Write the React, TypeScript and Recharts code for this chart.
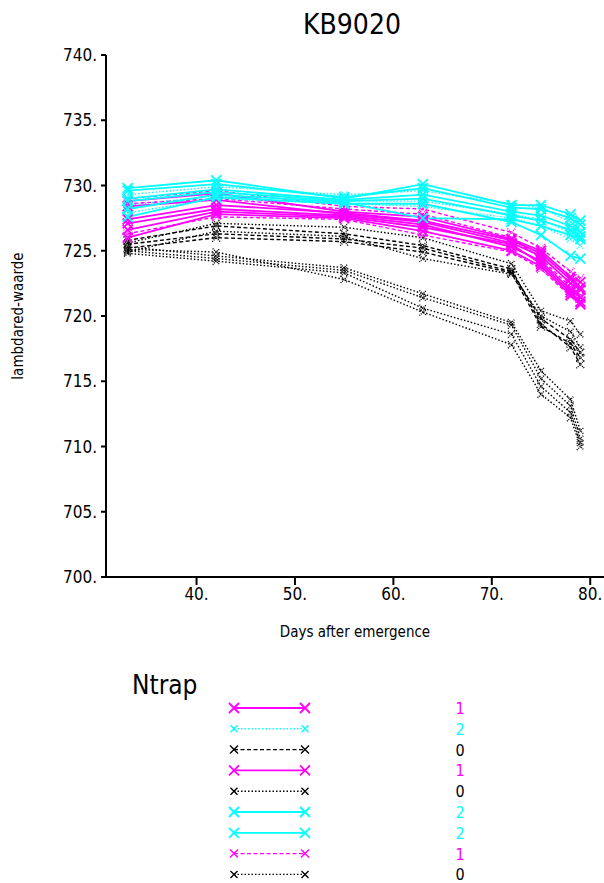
import React from 'react'
import { LineChart, Line, XAxis, YAxis } from 'recharts'

const FONT = "'Liberation Sans Narrow', 'DejaVu Sans Condensed', 'DejaVu Sans', sans-serif"

const DAYS = [33, 42, 55, 63, 72, 75, 78, 79]
const Y_TICKS = [700, 705, 710, 715, 720, 725, 730, 735, 740]
const X_TICKS = [40, 50, 60, 70, 80]

// Ntrap = 1 (magenta)
const M1 = [728.8, 729.4, 728.0, 727.6, 725.9, 725.0, 723.0, 722.6]
const M2 = [728.4, 728.9, 727.8, 727.2, 725.6, 724.6, 722.5, 722.0]
const M3 = [727.1, 728.2, 727.7, 727.0, 725.3, 724.2, 722.0, 721.4]
const M4 = [726.6, 728.0, 727.6, 726.8, 725.5, 724.0, 721.8, 721.1]
const M5 = [726.0, 727.8, 727.5, 726.5, 725.0, 723.8, 721.6, 720.9]
const M6 = [727.4, 728.5, 727.9, 727.3, 725.8, 724.8, 722.8, 722.2]
const MD1 = [729.0, 729.6, 728.4, 728.2, 726.4, 725.2, 723.4, 722.9]
const MD2 = [728.6, 729.0, 728.2, 727.8, 726.0, 724.4, 722.2, 721.6]
const MD3 = [726.3, 727.6, 727.4, 726.2, 724.9, 723.6, 721.5, 721.0]

// Ntrap = 2 (cyan)
const CD1 = [729.3, 729.9, 729.3, 729.6, 728.6, 728.3, 727.2, 726.6]
const CD2 = [728.5, 729.2, 728.8, 728.8, 727.8, 727.4, 726.4, 725.8]
const CD3 = [727.9, 729.0, 728.6, 728.4, 727.5, 726.9, 725.9, 725.4]
const C1 = [729.8, 730.4, 729.0, 730.1, 728.5, 728.5, 727.8, 727.3]
const C2 = [729.6, 730.1, 729.1, 729.8, 728.3, 728.2, 727.5, 727.0]
const C3 = [729.0, 729.7, 728.9, 729.3, 728.0, 727.7, 726.9, 726.4]
const C4 = [728.8, 729.5, 728.8, 729.0, 727.7, 727.3, 726.6, 726.1]
const C5 = [728.2, 729.3, 728.7, 727.5, 727.4, 726.9, 726.2, 725.9]
const C6 = [727.6, 729.1, 728.6, 728.6, 727.2, 726.2, 724.6, 724.4]

// Ntrap = 0 (black)
const BD1 = [725.8, 726.9, 726.3, 725.4, 723.6, 719.4, 717.6, 716.3]
const BD2 = [725.5, 726.3, 725.9, 725.2, 723.4, 719.8, 718.2, 717.2]
const BD3 = [725.2, 726.0, 725.7, 724.9, 723.3, 719.2, 717.9, 716.8]
const B1 = [725.6, 727.1, 726.8, 726.0, 724.0, 720.4, 719.6, 718.6]
const B2 = [724.9, 726.5, 726.1, 724.4, 723.2, 720.0, 718.8, 717.6]
const B3 = [725.3, 724.6, 723.7, 721.7, 719.5, 715.8, 713.6, 711.2]
const B4 = [725.0, 724.4, 723.5, 721.4, 719.3, 715.2, 713.1, 710.6]
const B5 = [724.8, 724.2, 723.3, 720.6, 718.6, 714.6, 712.6, 710.3]
const B6 = [725.1, 724.9, 722.8, 720.3, 717.8, 714.0, 712.2, 710.0]

// legend order: line styles and Ntrap values
const NTRAP = [1, 2, 0, 1, 0, 2, 2, 1, 0]

type Style = { color: string; dash?: string; width: number; mark: number }
const STYLES: Style[] = [
  { color: '#ff00ff', width: 1.8, mark: 5 },
  { color: '#00ffff', dash: '1.5 2', width: 1.4, mark: 3.5 },
  { color: '#000000', dash: '4 2.5', width: 1.4, mark: 4 },
  { color: '#ff00ff', width: 1.8, mark: 5 },
  { color: '#000000', dash: '1.5 2', width: 1.4, mark: 3.5 },
  { color: '#00ffff', width: 1.8, mark: 5 },
  { color: '#00ffff', width: 1.8, mark: 5 },
  { color: '#ff00ff', dash: '4 2.5', width: 1.4, mark: 4 },
  { color: '#000000', dash: '1.5 2', width: 1.4, mark: 3.5 },
]

const SERIES: number[][] = [
  M1, CD1, BD1, M2, B1, C1, C2, MD1, B3,
  M3, CD2, BD2, M4, B2, C3, C4, MD2, B4,
  M5, CD3, BD3, M6, B5, C5, C6, MD3, B6,
]

const data = DAYS.map((d, i) => {
  const row: Record<string, number> = { day: d }
  SERIES.forEach((s, k) => {
    row['s' + k] = s[i]
  })
  return row
})

function cross(cx: number, cy: number, r: number) {
  return `M${cx - r},${cy - r}L${cx + r},${cy + r}M${cx - r},${cy + r}L${cx + r},${cy - r}`
}

function makeDot(st: Style) {
  return (p: any) => (
    <path
      key={p.index}
      d={cross(p.cx, p.cy, st.mark)}
      stroke={st.color}
      strokeWidth={st.width}
      strokeDasharray={st.dash ? '1 1' : undefined}
      fill="none"
    />
  )
}

function LegendBox() {
  const rows = NTRAP.map((n, i) => ({ n, st: STYLES[i], y: 708 + i * 20.8 }))
  return (
    <svg width={604} height={883} style={{ position: 'absolute', left: 0, top: 0, pointerEvents: 'none' }}>
      <text x={132} y={694} fontSize={26} fontFamily={FONT} fontStretch="condensed" fill="#000">Ntrap</text>
      {rows.map(({ n, st, y }, i) => (
        <g key={i}>
          <line x1={234} x2={305} y1={y} y2={y} stroke={st.color} strokeWidth={st.width} strokeDasharray={st.dash} />
          <path d={cross(234, y, st.mark)} stroke={st.color} strokeWidth={st.width} fill="none" />
          <path d={cross(305, y, st.mark)} stroke={st.color} strokeWidth={st.width} fill="none" />
          <text x={460} y={y + 6} fontSize={16} fontFamily={FONT} fontStretch="condensed" fill={st.color} textAnchor="middle">{n}</text>
        </g>
      ))}
    </svg>
  )
}

export default function App() {
  return (
    <div style={{ position: 'absolute', left: 0, top: 0, width: 604, height: 883, background: '#fff', overflow: 'hidden', fontStretch: 'condensed' }}>
      <div style={{ position: 'absolute', left: 0, top: 8, width: 604, textAlign: 'center', paddingLeft: 100, boxSizing: 'border-box', fontFamily: FONT, fontSize: 28 }}>
        KB9020
      </div>
      <LineChart
        width={604}
        height={883}
        data={data}
        margin={{ top: 55, right: 0, bottom: 240, left: 6 }}
        style={{ fontFamily: FONT, fontStretch: 'condensed' }}
      >
        <XAxis
          dataKey="day"
          type="number"
          domain={[30.8, 81.4]}
          ticks={X_TICKS}
          allowDataOverflow
          tickFormatter={(v) => `${v}.`}
          tick={{ fontSize: 17, fill: '#000' }}
          tickSize={8}
          tickMargin={3}
          stroke="#000"
          strokeWidth={2}
          height={66}
          label={{ value: 'Days after emergence', position: 'insideBottom', offset: 6, fontSize: 15, fill: '#000' }}
        />
        <YAxis
          type="number"
          domain={[700, 740]}
          ticks={Y_TICKS}
          tickFormatter={(v) => `${v}.`}
          tick={{ fontSize: 17, fill: '#000' }}
          tickSize={5}
          tickMargin={4}
          stroke="#000"
          strokeWidth={2}
          width={100}
          label={{ value: 'lambdared-waarde', angle: -90, position: 'insideLeft', offset: 12, fontSize: 15, fill: '#000', style: { textAnchor: 'middle' } }}
        />
        {SERIES.map((_, k) => {
          const st = STYLES[k % STYLES.length]
          return (
            <Line
              key={k}
              dataKey={'s' + k}
              stroke={st.color}
              strokeWidth={st.width}
              strokeDasharray={st.dash}
              dot={makeDot(st)}
              activeDot={false}
              isAnimationActive={false}
            />
          )
        })}
      </LineChart>
      <LegendBox />
    </div>
  )
}
